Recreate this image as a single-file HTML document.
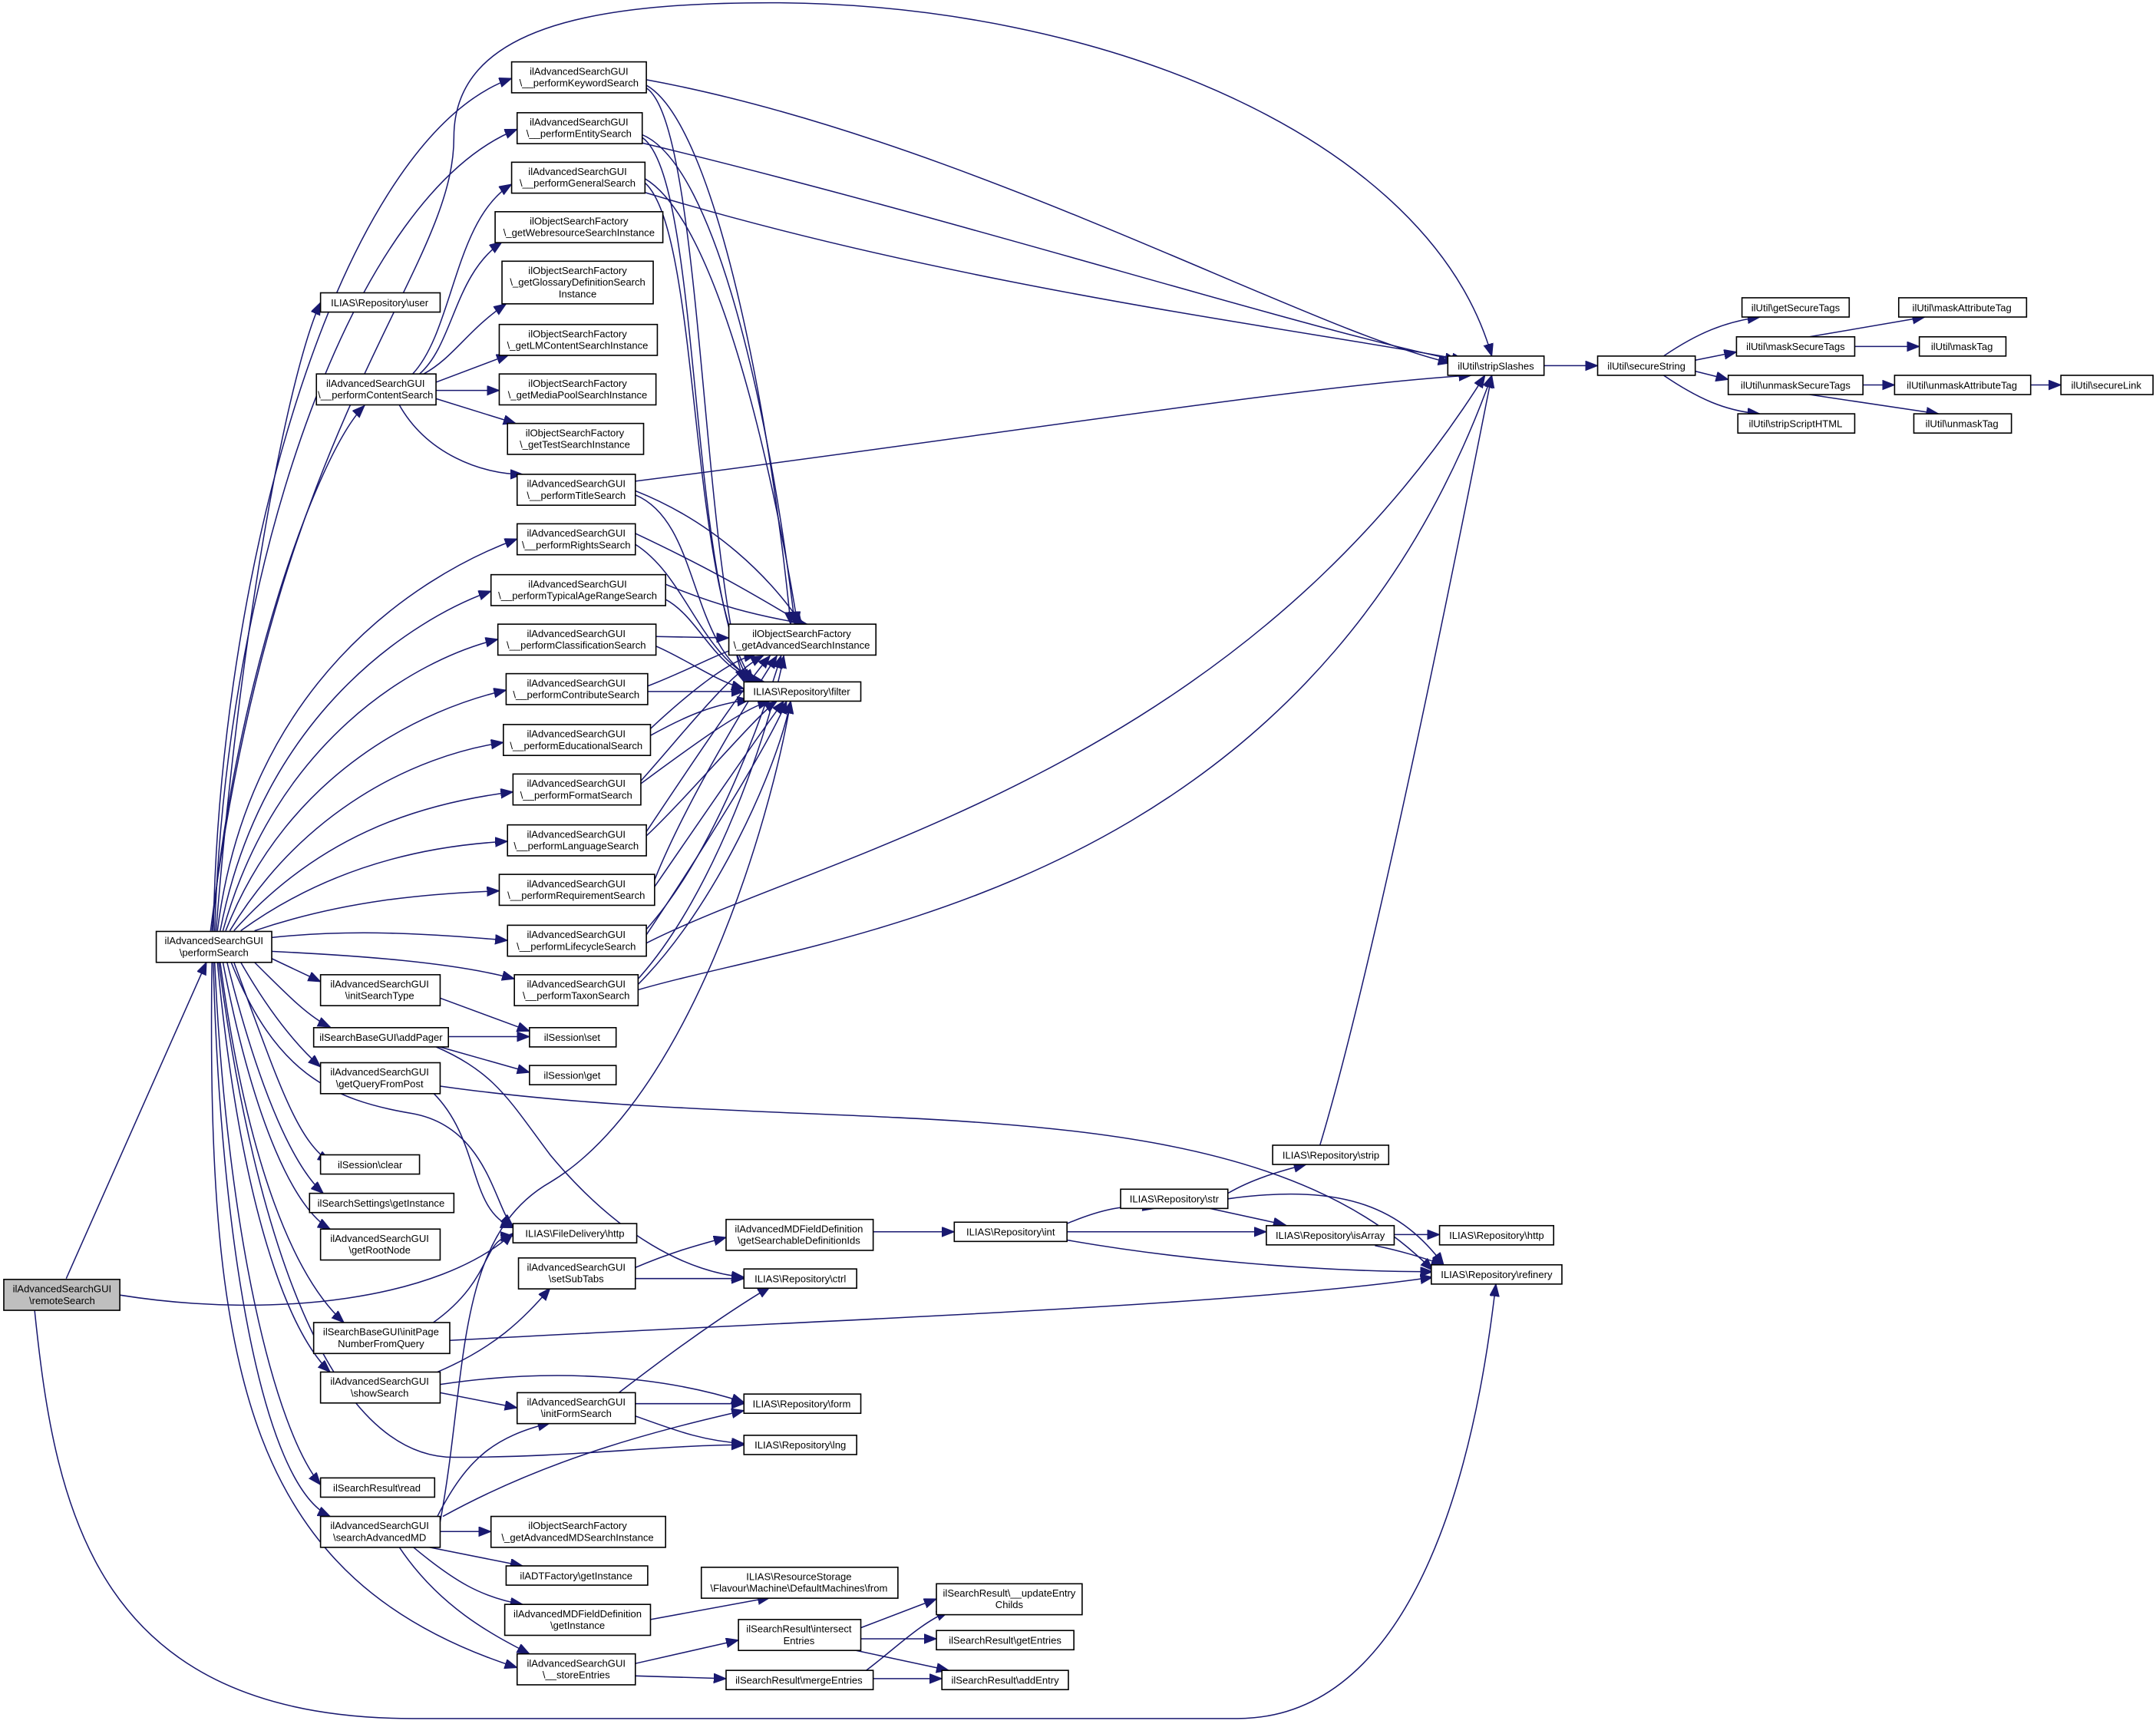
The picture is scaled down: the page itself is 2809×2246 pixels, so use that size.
<!DOCTYPE html>
<html><head><meta charset="utf-8"><style>
html,body{margin:0;padding:0;background:#fff;}
svg{display:block;}
text{font-family:"Liberation Sans",Arial,sans-serif;font-size:7.3px;fill:#000;text-anchor:middle;}
.b{fill:#fff;stroke:#000;stroke-width:0.9;}
.e{fill:none;stroke:#191970;stroke-width:0.85;marker-end:url(#a);}
</style></head><body>
<svg width="2809" height="2246" viewBox="0 0 1568 1254" xmlns="http://www.w3.org/2000/svg">
<defs><marker id="a" markerUnits="userSpaceOnUse" markerWidth="10" markerHeight="8" refX="9" refY="3.5" orient="auto"><path d="M0,0 L9,3.5 L0,7 z" fill="#191970" stroke="#191970" stroke-width="0.6"/></marker></defs>
<rect width="1568" height="1254" fill="#fff"/>
<g>
<path class="e" d="M48,930 L150,700"/>
<path class="e" d="M87,942 C200,960 320,945 373,897"/>
<path class="e" d="M25,953 C40,1100 70,1250 300,1250 L900,1250 C1050,1250 1080,1000 1088,934"/>
<path class="e" d="M155,677 C160,400 250,100 372,57"/>
<path class="e" d="M156,677 C165,400 260,140 376,94"/>
<path class="e" d="M157,677 C175,450 210,270 233,220"/>
<path class="e" d="M154,677 C170,500 230,330 265,295"/>
<path class="e" d="M153,677 C200,300 330,200 330,100 C330,20 430,2 560,2 C800,2 1040,100 1085,259"/>
<path class="e" d="M158,677 C180,500 300,420 376,392"/>
<path class="e" d="M160,677 C190,520 300,450 357,430"/>
<path class="e" d="M162,677 C200,540 300,480 362,465"/>
<path class="e" d="M164,677 C210,560 310,515 368,502"/>
<path class="e" d="M167,677 C220,590 300,550 366,540"/>
<path class="e" d="M170,677 C230,610 300,585 373,576"/>
<path class="e" d="M175,677 C240,630 310,615 369,612"/>
<path class="e" d="M185,677 C250,655 310,650 363,648"/>
<path class="e" d="M197,682 C260,675 320,680 369,684"/>
<path class="e" d="M197,692 C260,695 330,700 374,712"/>
<path class="e" d="M197,697 L233,714"/>
<path class="e" d="M185,700 C210,725 225,740 240,747"/>
<path class="e" d="M175,700 C195,735 215,760 233,776"/>
<path class="e" d="M170,700 C200,780 215,830 240,845"/>
<path class="e" d="M165,700 C190,800 215,850 235,868"/>
<path class="e" d="M162,700 C185,820 215,880 240,894"/>
<path class="e" d="M168,700 C200,780 240,800 300,810 C355,820 360,880 373,892"/>
<path class="e" d="M160,700 C180,850 215,930 250,962"/>
<path class="e" d="M158,700 C175,880 210,970 240,998"/>
<path class="e" d="M156,700 C165,900 200,1040 233,1080"/>
<path class="e" d="M155,700 C160,900 190,1080 240,1103"/>
<path class="e" d="M154,700 C150,1000 180,1150 376,1213"/>
<path class="e" d="M159,700 C185,900 240,1060 330,1060 C420,1060 480,1051 541,1051"/>
<path class="e" d="M470,58 C700,100 950,240 1055,264"/>
<path class="e" d="M470,62 C520,90 560,300 575,454"/>
<path class="e" d="M470,64 C510,90 510,400 541,496"/>
<path class="e" d="M467,104 C700,160 950,240 1060,262"/>
<path class="e" d="M467,98 C520,120 560,300 578,454"/>
<path class="e" d="M467,100 C510,130 500,420 545,496"/>
<path class="e" d="M469,140 C700,210 950,240 1065,262"/>
<path class="e" d="M469,130 C520,160 560,330 580,454"/>
<path class="e" d="M469,133 C510,170 500,430 548,496"/>
<path class="e" d="M300,272 C330,240 330,160 372,134"/>
<path class="e" d="M305,272 C330,250 330,200 365,176"/>
<path class="e" d="M308,272 C330,260 340,240 368,221"/>
<path class="e" d="M317,278 L370,258"/>
<path class="e" d="M317,284 L363,284"/>
<path class="e" d="M317,290 L375,308"/>
<path class="e" d="M290,294 C310,330 350,345 380,345"/>
<path class="e" d="M462,350 C700,320 950,280 1070,273"/>
<path class="e" d="M462,357 C520,380 560,420 583,454"/>
<path class="e" d="M462,360 C510,380 500,470 550,496"/>
<path class="e" d="M462,388 C530,420 560,440 585,454"/>
<path class="e" d="M462,396 C500,420 510,480 553,496"/>
<path class="e" d="M484,425 C520,440 550,448 587,454"/>
<path class="e" d="M484,436 C510,450 520,490 556,496"/>
<path class="e" d="M477,463 L530,464"/>
<path class="e" d="M477,470 C500,480 520,495 541,501"/>
<path class="e" d="M471,499 C500,488 520,476 540,470"/>
<path class="e" d="M471,503 L541,503"/>
<path class="e" d="M473,530 C500,505 530,480 550,476"/>
<path class="e" d="M473,535 C500,520 520,512 545,509"/>
<path class="e" d="M466,568 C500,530 530,490 555,477"/>
<path class="e" d="M466,570 C500,545 540,515 560,510"/>
<path class="e" d="M470,605 C500,560 540,500 560,477"/>
<path class="e" d="M470,608 C500,580 550,520 565,510"/>
<path class="e" d="M476,640 C500,580 550,500 565,477"/>
<path class="e" d="M476,645 C500,610 555,530 570,510"/>
<path class="e" d="M470,686 C600,620 900,560 1080,273"/>
<path class="e" d="M470,676 C520,620 555,520 568,477"/>
<path class="e" d="M470,680 C510,620 560,540 572,510"/>
<path class="e" d="M464,720 C600,680 950,650 1085,273"/>
<path class="e" d="M464,712 C520,650 560,530 570,477"/>
<path class="e" d="M464,716 C520,660 565,560 575,510"/>
<path class="e" d="M320,726 L385,750"/>
<path class="e" d="M326,754 L385,754"/>
<path class="e" d="M318,761 L385,780"/>
<path class="e" d="M316,761 C360,780 370,800 400,840 C450,900 500,925 541,929"/>
<path class="e" d="M320,790 C600,830 900,780 1042,924"/>
<path class="e" d="M315,795 C350,830 340,880 373,893"/>
<path class="e" d="M315,962 C360,930 350,900 373,899"/>
<path class="e" d="M327,975 C600,960 900,950 1042,929"/>
<path class="e" d="M462,922 C490,910 510,905 528,900"/>
<path class="e" d="M462,930 L541,930"/>
<path class="e" d="M318,998 C360,980 380,960 400,937"/>
<path class="e" d="M320,1013 L376,1024"/>
<path class="e" d="M320,1007 C400,995 480,1000 541,1020"/>
<path class="e" d="M450,1013 C480,990 520,960 560,936"/>
<path class="e" d="M462,1021 L541,1021"/>
<path class="e" d="M462,1030 C490,1040 510,1048 541,1050"/>
<path class="e" d="M318,1103 C340,1060 360,1045 400,1035"/>
<path class="e" d="M322,1103 C400,1060 480,1040 541,1026"/>
<path class="e" d="M320,1107 C340,1000 330,900 400,860 C500,800 560,600 575,510"/>
<path class="e" d="M320,1114 L357,1114"/>
<path class="e" d="M310,1125 L380,1139"/>
<path class="e" d="M300,1125 C330,1150 350,1162 380,1167"/>
<path class="e" d="M290,1125 C320,1170 360,1190 385,1203"/>
<path class="e" d="M473,1178 L560,1162"/>
<path class="e" d="M462,1210 L537,1193"/>
<path class="e" d="M462,1219 L528,1221"/>
<path class="e" d="M626,1184 L681,1163"/>
<path class="e" d="M626,1192 L681,1192"/>
<path class="e" d="M620,1200 L690,1215"/>
<path class="e" d="M630,1215 C650,1200 670,1180 690,1172"/>
<path class="e" d="M635,1221 L685,1221"/>
<path class="e" d="M635,896 L694,896"/>
<path class="e" d="M776,890 C800,880 820,875 840,879"/>
<path class="e" d="M776,896 L921,896"/>
<path class="e" d="M776,902 C850,915 950,925 1042,925"/>
<path class="e" d="M893,868 C910,858 930,852 950,847"/>
<path class="e" d="M880,879 L935,891"/>
<path class="e" d="M893,872 C980,860 1020,880 1050,920"/>
<path class="e" d="M960,833 C1000,700 1060,400 1085,273"/>
<path class="e" d="M1014,898 L1047,898"/>
<path class="e" d="M1000,906 C1020,910 1035,915 1050,920"/>
<path class="e" d="M1123,266 L1162,266"/>
<path class="e" d="M1210,259 C1235,242 1255,234 1280,230.6"/>
<path class="e" d="M1233,262 L1263,256"/>
<path class="e" d="M1233,270 L1257,276"/>
<path class="e" d="M1210,273 C1235,290 1255,299 1280,301"/>
<path class="e" d="M1316,245 L1400,230.6"/>
<path class="e" d="M1349,252 L1396,252"/>
<path class="e" d="M1355,280 L1378,280"/>
<path class="e" d="M1316,287 L1410,301"/>
<path class="e" d="M1477,280 L1499,280"/>
</g>
<g>
<rect class="b" x="2.6" y="930.6" width="84.4" height="22.5" style="fill:#bfbfbf"/><text x="45" y="940">ilAdvancedSearchGUI</text><text x="45" y="948.5">\remoteSearch</text>
<rect class="b" x="113.5" y="677.5" width="84" height="22.5"/><text x="155.5" y="686.8">ilAdvancedSearchGUI</text><text x="155.5" y="695.3">\performSearch</text>
<rect class="b" x="372" y="45" width="98" height="22.5"/><text x="421" y="54.3">ilAdvancedSearchGUI</text><text x="421" y="62.8">\__performKeywordSearch</text>
<rect class="b" x="376" y="82" width="91" height="22.5"/><text x="421" y="91.3">ilAdvancedSearchGUI</text><text x="421" y="99.8">\__performEntitySearch</text>
<rect class="b" x="372" y="118" width="97" height="22.5"/><text x="420" y="127.3">ilAdvancedSearchGUI</text><text x="420" y="135.8">\__performGeneralSearch</text>
<rect class="b" x="360" y="154" width="122" height="22.5"/><text x="421" y="163.3">ilObjectSearchFactory</text><text x="421" y="171.8">\_getWebresourceSearchInstance</text>
<rect class="b" x="365" y="190" width="110" height="31"/><text x="420" y="199.3">ilObjectSearchFactory</text><text x="420" y="207.8">\_getGlossaryDefinitionSearch</text><text x="420" y="216.3">Instance</text>
<rect class="b" x="363" y="236" width="115" height="22.5"/><text x="420" y="245.3">ilObjectSearchFactory</text><text x="420" y="253.8">\_getLMContentSearchInstance</text>
<rect class="b" x="363" y="272" width="114" height="22.5"/><text x="420" y="281.3">ilObjectSearchFactory</text><text x="420" y="289.8">\_getMediaPoolSearchInstance</text>
<rect class="b" x="369" y="308" width="99" height="22.5"/><text x="418" y="317.3">ilObjectSearchFactory</text><text x="418" y="325.8">\_getTestSearchInstance</text>
<rect class="b" x="233" y="213" width="87" height="14"/><text x="276" y="222.7">ILIAS\Repository\user</text>
<rect class="b" x="230" y="272" width="87" height="22.5"/><text x="273" y="281.3">ilAdvancedSearchGUI</text><text x="273" y="289.8">\__performContentSearch</text>
<rect class="b" x="376" y="345" width="86" height="22.5"/><text x="419" y="354.3">ilAdvancedSearchGUI</text><text x="419" y="362.8">\__performTitleSearch</text>
<rect class="b" x="376" y="381" width="86" height="22.5"/><text x="419" y="390.3">ilAdvancedSearchGUI</text><text x="419" y="398.8">\__performRightsSearch</text>
<rect class="b" x="357" y="418" width="127" height="22.5"/><text x="420" y="427.3">ilAdvancedSearchGUI</text><text x="420" y="435.8">\__performTypicalAgeRangeSearch</text>
<rect class="b" x="362" y="454" width="115" height="22.5"/><text x="419" y="463.3">ilAdvancedSearchGUI</text><text x="419" y="471.8">\__performClassificationSearch</text>
<rect class="b" x="368" y="490" width="103" height="22.5"/><text x="419" y="499.3">ilAdvancedSearchGUI</text><text x="419" y="507.8">\__performContributeSearch</text>
<rect class="b" x="366" y="527" width="107" height="22.5"/><text x="419" y="536.3">ilAdvancedSearchGUI</text><text x="419" y="544.8">\__performEducationalSearch</text>
<rect class="b" x="373" y="563" width="93" height="22.5"/><text x="419" y="572.3">ilAdvancedSearchGUI</text><text x="419" y="580.8">\__performFormatSearch</text>
<rect class="b" x="369" y="600" width="101" height="22.5"/><text x="419" y="609.3">ilAdvancedSearchGUI</text><text x="419" y="617.8">\__performLanguageSearch</text>
<rect class="b" x="363" y="636" width="113" height="22.5"/><text x="419" y="645.3">ilAdvancedSearchGUI</text><text x="419" y="653.8">\__performRequirementSearch</text>
<rect class="b" x="369" y="673" width="101" height="22.5"/><text x="419" y="682.3">ilAdvancedSearchGUI</text><text x="419" y="690.8">\__performLifecycleSearch</text>
<rect class="b" x="374" y="709" width="90" height="22.5"/><text x="419" y="718.3">ilAdvancedSearchGUI</text><text x="419" y="726.8">\__performTaxonSearch</text>
<rect class="b" x="530" y="454" width="107" height="22.5"/><text x="583" y="463.3">ilObjectSearchFactory</text><text x="583" y="471.8">\_getAdvancedSearchInstance</text>
<rect class="b" x="541" y="496" width="85" height="14"/><text x="583" y="505.7">ILIAS\Repository\filter</text>
<rect class="b" x="233" y="709" width="87" height="22.5"/><text x="276" y="718.3">ilAdvancedSearchGUI</text><text x="276" y="726.8">\initSearchType</text>
<rect class="b" x="228" y="747.5" width="98" height="14"/><text x="277" y="757.2">ilSearchBaseGUI\addPager</text>
<rect class="b" x="385" y="747.5" width="63" height="14"/><text x="416" y="757.2">ilSession\set</text>
<rect class="b" x="385" y="775" width="63" height="14"/><text x="416" y="784.7">ilSession\get</text>
<rect class="b" x="233" y="773" width="87" height="22.5"/><text x="276" y="782.3">ilAdvancedSearchGUI</text><text x="276" y="790.8">\getQueryFromPost</text>
<rect class="b" x="233" y="840" width="72" height="14"/><text x="269" y="849.7">ilSession\clear</text>
<rect class="b" x="225" y="868" width="105" height="14"/><text x="277" y="877.7">ilSearchSettings\getInstance</text>
<rect class="b" x="233" y="894" width="87" height="22.5"/><text x="276" y="903.3">ilAdvancedSearchGUI</text><text x="276" y="911.8">\getRootNode</text>
<rect class="b" x="373" y="890" width="90" height="14"/><text x="418" y="899.7">ILIAS\FileDelivery\http</text>
<rect class="b" x="377" y="915" width="85" height="22.5"/><text x="419" y="924.3">ilAdvancedSearchGUI</text><text x="419" y="932.8">\setSubTabs</text>
<rect class="b" x="228" y="962" width="99" height="22.5"/><text x="277" y="971.3">ilSearchBaseGUI\initPage</text><text x="277" y="979.8">NumberFromQuery</text>
<rect class="b" x="233" y="998" width="87" height="22.5"/><text x="276" y="1007.3">ilAdvancedSearchGUI</text><text x="276" y="1015.8">\showSearch</text>
<rect class="b" x="376" y="1013" width="86" height="22.5"/><text x="419" y="1022.3">ilAdvancedSearchGUI</text><text x="419" y="1030.8">\initFormSearch</text>
<rect class="b" x="541" y="1014" width="85" height="14"/><text x="583" y="1023.7">ILIAS\Repository\form</text>
<rect class="b" x="541" y="1044" width="82" height="14"/><text x="582" y="1053.7">ILIAS\Repository\lng</text>
<rect class="b" x="233" y="1075" width="83" height="14"/><text x="274" y="1084.7">ilSearchResult\read</text>
<rect class="b" x="233" y="1103" width="87" height="22.5"/><text x="276" y="1112.3">ilAdvancedSearchGUI</text><text x="276" y="1120.8">\searchAdvancedMD</text>
<rect class="b" x="357" y="1103" width="127" height="22.5"/><text x="420" y="1112.3">ilObjectSearchFactory</text><text x="420" y="1120.8">\_getAdvancedMDSearchInstance</text>
<rect class="b" x="368" y="1139" width="103" height="14"/><text x="419" y="1148.7">ilADTFactory\getInstance</text>
<rect class="b" x="367" y="1167" width="106" height="22.5"/><text x="420" y="1176.3">ilAdvancedMDFieldDefinition</text><text x="420" y="1184.8">\getInstance</text>
<rect class="b" x="376" y="1203" width="86" height="22.5"/><text x="419" y="1212.3">ilAdvancedSearchGUI</text><text x="419" y="1220.8">\__storeEntries</text>
<rect class="b" x="510" y="1140" width="143" height="22.5"/><text x="581" y="1149.3">ILIAS\ResourceStorage</text><text x="581" y="1157.8">\Flavour\Machine\DefaultMachines\from</text>
<rect class="b" x="537" y="1178" width="89" height="22.5"/><text x="581" y="1187.3">ilSearchResult\intersect</text><text x="581" y="1195.8">Entries</text>
<rect class="b" x="528" y="1215" width="107" height="14"/><text x="581" y="1224.7">ilSearchResult\mergeEntries</text>
<rect class="b" x="681" y="1152" width="106" height="22.5"/><text x="734" y="1161.3">ilSearchResult\__updateEntry</text><text x="734" y="1169.8">Childs</text>
<rect class="b" x="681" y="1186" width="100" height="14"/><text x="731" y="1195.7">ilSearchResult\getEntries</text>
<rect class="b" x="685" y="1215" width="92" height="14"/><text x="731" y="1224.7">ilSearchResult\addEntry</text>
<rect class="b" x="528" y="887" width="107" height="22.5"/><text x="581" y="896.3">ilAdvancedMDFieldDefinition</text><text x="581" y="904.8">\getSearchableDefinitionIds</text>
<rect class="b" x="541" y="923" width="82" height="14"/><text x="582" y="932.7">ILIAS\Repository\ctrl</text>
<rect class="b" x="694" y="889" width="82" height="14"/><text x="735" y="898.7">ILIAS\Repository\int</text>
<rect class="b" x="815" y="865" width="78" height="14"/><text x="854" y="874.7">ILIAS\Repository\str</text>
<rect class="b" x="925.6" y="833" width="84.4" height="14"/><text x="968" y="842.7">ILIAS\Repository\strip</text>
<rect class="b" x="921" y="891.5" width="93" height="14"/><text x="967.5" y="901.2">ILIAS\Repository\isArray</text>
<rect class="b" x="1047" y="891.5" width="83" height="14"/><text x="1088.5" y="901.2">ILIAS\Repository\http</text>
<rect class="b" x="1041" y="920" width="95" height="14"/><text x="1088.5" y="929.7">ILIAS\Repository\refinery</text>
<rect class="b" x="1053" y="259" width="70" height="14"/><text x="1088" y="268.7">ilUtil\stripSlashes</text>
<rect class="b" x="1162" y="259" width="71" height="14"/><text x="1197.5" y="268.7">ilUtil\secureString</text>
<rect class="b" x="1267" y="216.6" width="78" height="14"/><text x="1306" y="226.3">ilUtil\getSecureTags</text>
<rect class="b" x="1263" y="245" width="86" height="14"/><text x="1306" y="254.7">ilUtil\maskSecureTags</text>
<rect class="b" x="1257" y="273" width="98" height="14"/><text x="1306" y="282.7">ilUtil\unmaskSecureTags</text>
<rect class="b" x="1264" y="301" width="85" height="14"/><text x="1306" y="310.7">ilUtil\stripScriptHTML</text>
<rect class="b" x="1381" y="216.6" width="93" height="14"/><text x="1427" y="226.3">ilUtil\maskAttributeTag</text>
<rect class="b" x="1396" y="245" width="63" height="14"/><text x="1427" y="254.7">ilUtil\maskTag</text>
<rect class="b" x="1378" y="273" width="99" height="14"/><text x="1427" y="282.7">ilUtil\unmaskAttributeTag</text>
<rect class="b" x="1392" y="301" width="71" height="14"/><text x="1427" y="310.7">ilUtil\unmaskTag</text>
<rect class="b" x="1499" y="273" width="67" height="14"/><text x="1532" y="282.7">ilUtil\secureLink</text>
</g>
</svg>
</body></html>
